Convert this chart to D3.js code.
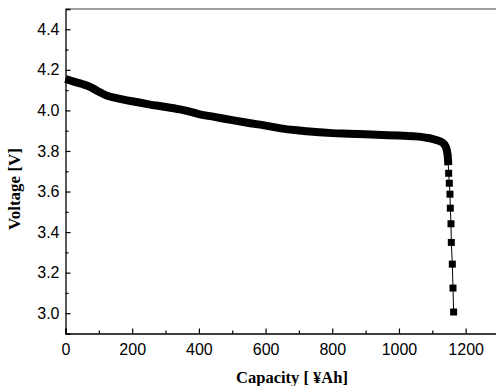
<!DOCTYPE html>
<html><head><meta charset="utf-8">
<script src="https://cdn.jsdelivr.net/npm/d3@7"></script>
<style>html,body{margin:0;padding:0;background:#fff;}svg{display:block;}</style>
</head><body>
<svg id="c" width="496" height="386"></svg>
<script>
// Dense part of the discharge curve (capacity, voltage)
const capDense = [0,25,50,75,100,125,150,200,250,300,350,400,450,500,550,600,650,700,750,800,850,900,950,1000,1050,1080,1100,1120,1130,1140,1146,1148];
const voltDense = [4.155,4.142,4.130,4.115,4.092,4.072,4.062,4.045,4.030,4.017,4.003,3.982,3.967,3.952,3.938,3.925,3.910,3.901,3.893,3.888,3.885,3.882,3.879,3.876,3.872,3.866,3.860,3.850,3.842,3.822,3.78,3.73];
// Sparse tail markers
const capTail = [1149,1151,1153,1154,1156,1157,1160,1162,1164];
const voltTail = [3.69,3.641,3.587,3.518,3.441,3.349,3.242,3.124,3.006];
const xTicks = [0,200,400,600,800,1000,1200];
const yTicks = [3.0,3.2,3.4,3.6,3.8,4.0,4.2,4.4];
const xLabel = "Capacity [ ¥Ah]";
const yLabel = "Voltage [V]";

const svg = d3.select("#c");
const x = d3.scaleLinear().domain([0,1300]).range([65.5,499]);
const y = d3.scaleLinear().domain([2.9,4.5]).range([333.5,9]);

const dense = capDense.map((c,i)=>[c,voltDense[i]]);
const tail = capTail.map((c,i)=>[c,voltTail[i]]);
const all = dense.concat(tail);

// frame
svg.append("line").attr("x1",x(0)).attr("x2",x(1300)).attr("y1",y(4.5)).attr("y2",y(4.5)).attr("stroke","#444").attr("stroke-width",1.2);

const tickLen = 5, minorLen = 3;
// x axis
svg.append("g").attr("transform",`translate(0,${y(2.9)})`)
  .call(d3.axisBottom(x).tickValues(xTicks).tickSize(-tickLen).tickPadding(10).tickFormat(d3.format("d")));
svg.append("g").attr("transform",`translate(0,${y(2.9)})`)
  .call(d3.axisBottom(x).tickValues(d3.range(100,1300,200)).tickSize(-minorLen).tickFormat(""))
  .call(g=>g.select(".domain").remove());
// y axis
svg.append("g").attr("transform",`translate(${x(0)},0)`)
  .call(d3.axisLeft(y).tickValues(yTicks).tickSize(-tickLen).tickPadding(6).tickFormat(d3.format(".1f")));
svg.append("g").attr("transform",`translate(${x(0)},0)`)
  .call(d3.axisLeft(y).tickValues(d3.range(3.1,4.5,0.2)).tickSize(-minorLen).tickFormat(""))
  .call(g=>g.select(".domain").remove());

svg.selectAll(".domain").attr("stroke","#000").attr("stroke-width",1.3);
svg.selectAll(".tick line").attr("stroke","#000").attr("stroke-width",1.2);
svg.selectAll(".tick text").attr("font-family","'Liberation Sans',Arial,sans-serif").attr("font-size",16).attr("fill","#000");

const line = d3.line().x(d=>x(d[0])).y(d=>y(d[1]));
const smooth = d3.line().x(d=>x(d[0])).y(d=>y(d[1])).curve(d3.curveMonotoneX);
// thin connecting line
svg.append("path").datum(all).attr("d",line).attr("fill","none").attr("stroke","#000").attr("stroke-width",1);
// dense band of markers
svg.append("path").datum(dense).attr("d",smooth).attr("fill","none").attr("stroke","#000").attr("stroke-width",8).attr("stroke-linejoin","round").attr("stroke-linecap","butt");
// square markers on the sparse tail
const s = 7;
svg.selectAll("rect.m").data(tail).enter().append("rect").attr("class","m")
  .attr("x",d=>x(d[0])-s/2).attr("y",d=>y(d[1])-s/2).attr("width",s).attr("height",s).attr("fill","#000");

// labels
svg.append("text").attr("x",292).attr("y",383).attr("text-anchor","middle")
  .attr("font-family","'Liberation Serif','Times New Roman',serif").attr("font-weight","bold").attr("font-size",16.5).text(xLabel);
svg.append("text").attr("transform","translate(20,189) rotate(-90)").attr("text-anchor","middle")
  .attr("font-family","'Liberation Serif','Times New Roman',serif").attr("font-weight","bold").attr("font-size",17).text(yLabel);
</script>
</body></html>
